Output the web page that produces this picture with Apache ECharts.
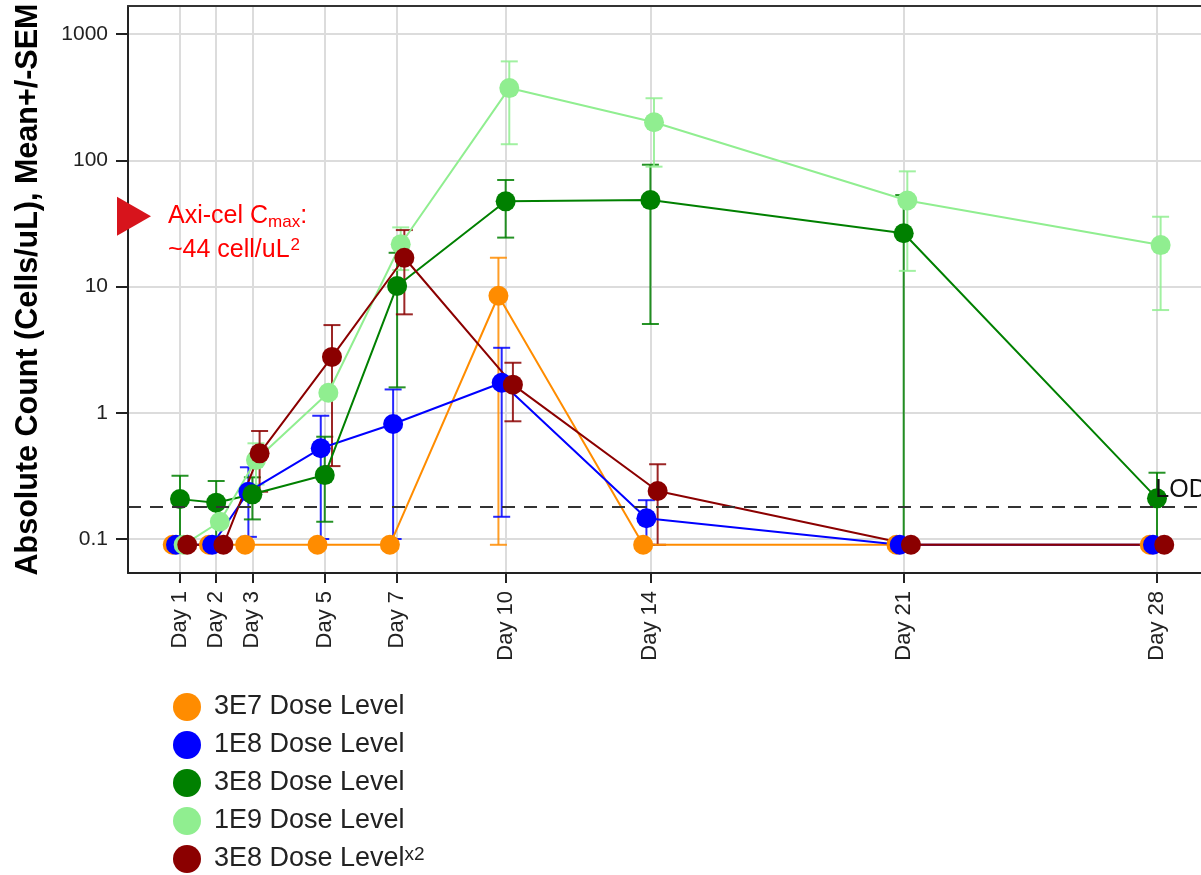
<!DOCTYPE html>
<html>
<head>
<meta charset="utf-8">
<title>Absolute count by dose level</title>
<script src="https://cdn.jsdelivr.net/npm/echarts@6.0.0/dist/echarts.min.js"></script>
<style>
  html, body { margin: 0; padding: 0; background: #fff; }
  #trend_chart { width: 1201px; height: 875px; }
</style>
</head>
<body>
<div id="trend_chart"></div>
<script>
// x axis: study days and their labels
const DAYS = [1, 2, 3, 5, 7, 10, 14, 21, 28]
const DAY_LABELS = ['Day 1', 'Day 2', 'Day 3', 'Day 5', 'Day 7', 'Day 10', 'Day 14', 'Day 21', 'Day 28']
// y axis (log) tick labels
const Y_TICKS = [0.1, 1, 10, 100, 1000]

const SERIES_NAMES = ['3E7 Dose Level', '1E8 Dose Level', '3E8 Dose Level', '1E9 Dose Level', '3E8 Dose Level x2']

// mean, mean+SEM and mean-SEM per dose level (cells/uL), null = no bar drawn
const MEAN_3E7 = [0.09, 0.09, 0.09, 0.09, 0.09, 8.45, 0.09, 0.09, 0.09]
const HIGH_3E7 = [null, null, null, null, null, 16.9, null, null, null]
const LOW_3E7 = [null, null, null, null, null, 0.09, null, null, null]

const MEAN_1E8 = [0.09, 0.09, 0.237, 0.523, 0.814, 1.73, 0.146, 0.09, 0.09]
const HIGH_1E8 = [null, null, 0.37, 0.947, 1.53, 3.27, 0.203, null, null]
const LOW_1E8 = [null, null, 0.104, 0.1, 0.1, 0.15, 0.09, null, null]

const MEAN_3E8 = [0.207, 0.194, 0.226, 0.321, 10.1, 47.3, 48.4, 26.4, 0.21]
const HIGH_3E8 = [0.317, 0.288, 0.308, 0.646, 18.5, 69.8, 92.2, 53, 0.335]
const LOW_3E8 = [0.097, 0.1, 0.143, 0.137, 1.59, 24.4, 5.05, 0.09, 0.09]

const MEAN_1E9 = [0.09, 0.137, 0.422, 1.44, 21.6, 373, 200, 48.0, 21.3]
const HIGH_1E9 = [null, null, 0.573, null, 29.4, 607, 310, 81.7, 35.7]
const LOW_1E9 = [null, null, 0.27, null, 13.5, 134, 89, 13.3, 6.51]

const MEAN_3E8X2 = [0.09, 0.09, 0.477, 2.77, 16.9, 1.67, 0.24, 0.09, 0.09]
const HIGH_3E8X2 = [null, null, 0.717, 4.95, 28.0, 2.49, 0.391, null, null]
const LOW_3E8X2 = [null, null, 0.237, 0.378, 6.02, 0.856, 0.09, null, null]

// limit of detection and the axi-cel Cmax arrow
const LOD_VALUE = 0.18
const CMAX_MARK = 36

const FONT = '"Liberation Sans", Arial, Helvetica, sans-serif'
const X_MIN = -0.437
const X_MAX = 29.216
const Y_MIN = 0.0538
const Y_MAX = 1667

// each dose level is nudged a little sideways so the dots do not sit on top of each other
const GROUPS = [
  { name: SERIES_NAMES[0], color: '#ff8c00', shift: -0.2, mean: MEAN_3E7, high: HIGH_3E7, low: LOW_3E7 },
  { name: SERIES_NAMES[1], color: '#0000ff', shift: -0.11, mean: MEAN_1E8, high: HIGH_1E8, low: LOW_1E8 },
  { name: SERIES_NAMES[2], color: '#008000', shift: 0, mean: MEAN_3E8, high: HIGH_3E8, low: LOW_3E8 },
  { name: SERIES_NAMES[3], color: '#90ee90', shift: 0.1, mean: MEAN_1E9, high: HIGH_1E9, low: LOW_1E9 },
  { name: SERIES_NAMES[4], color: '#8b0000', shift: 0.2, mean: MEAN_3E8X2, high: HIGH_3E8X2, low: LOW_3E8X2 }
]

function errorBar(color) {
  return function(params, api) {
    var x = api.value(0)
    var top = api.coord([x, api.value(2)])
    var bot = api.coord([x, api.value(1)])
    var w = 8.5
    var style = { stroke: color, lineWidth: 2, opacity: 0.85 }
    return {
      type: 'group',
      children: [
        { type: 'line', shape: { x1: top[0], y1: top[1], x2: bot[0], y2: bot[1] }, style: style },
        { type: 'line', shape: { x1: top[0] - w, y1: top[1], x2: top[0] + w, y2: top[1] }, style: style },
        { type: 'line', shape: { x1: bot[0] - w, y1: bot[1], x2: bot[0] + w, y2: bot[1] }, style: style }
      ]
    }
  }
}

var series = []
GROUPS.forEach(function(g) {
  var bars = []
  DAYS.forEach(function(d, i) {
    if (g.high[i] != null) {
      bars.push([d + g.shift, g.low[i], g.high[i]])
    }
  })
  series.push({
    name: g.name + ' SEM',
    type: 'custom',
    z: 1,
    silent: true,
    renderItem: errorBar(g.color),
    encode: { x: 0, y: [1, 2] },
    data: bars
  })
})
GROUPS.forEach(function(g, k) {
  var s = {
    name: g.name,
    type: 'line',
    z: 2,
    symbol: 'circle',
    symbolSize: 20,
    showAllSymbol: true,
    itemStyle: { color: g.color },
    lineStyle: { color: g.color, width: 2 },
    data: DAYS.map(function(d, i) {
      return [d + g.shift, g.mean[i]]
    })
  }
  if (k === 0) {
    s.markLine = {
      silent: true,
      symbol: 'none',
      label: { show: false },
      lineStyle: { color: '#333', width: 2, type: [13, 9] },
      data: [{ yAxis: LOD_VALUE }]
    }
    s.markPoint = {
      silent: true,
      symbol: 'circle',
      symbolSize: 1,
      itemStyle: { color: 'rgba(0,0,0,0)' },
      label: {
        show: true,
        position: 'right',
        distance: 0,
        offset: [0, -17],
        formatter: 'LOD',
        fontSize: 25,
        fontFamily: FONT,
        color: '#111'
      },
      data: [{ coord: [27.94, LOD_VALUE] }]
    }
  }
  series.push(s)
})

var myChart = echarts.init(document.getElementById('trend_chart'))

const option = {
  animation: false,
  backgroundColor: '#fff',
  grid: { left: 128, top: 6, right: 0, bottom: 302 },
  legend: {
    data: SERIES_NAMES.map(function(n) { return { name: n, icon: 'circle' } }),
    orient: 'vertical',
    left: 173,
    top: 693,
    height: 300,
    padding: 0,
    itemWidth: 28,
    itemHeight: 28,
    itemGap: 10,
    selectedMode: false,
    formatter: function(name) {
      if (name.slice(-3) === ' x2') {
        return '{t|' + name.slice(0, -3) + '}{sup|x2}'
      }
      return '{t|' + name + '}'
    },
    textStyle: {
      padding: [0, 0, 0, 8],
      rich: {
        t: { fontSize: 27, lineHeight: 28, color: '#222', fontFamily: FONT },
        sup: { fontSize: 19, lineHeight: 28, color: '#222', fontFamily: FONT, verticalAlign: 'top' }
      }
    }
  },
  xAxis: [
    {
      type: 'value',
      min: X_MIN,
      max: X_MAX,
      axisLine: { show: true, onZero: false, lineStyle: { color: '#222', width: 2 } },
      axisTick: { show: true, customValues: DAYS, length: 10, lineStyle: { color: '#222', width: 2 } },
      axisLabel: {
        customValues: DAYS,
        rotate: 90,
        margin: 18,
        fontSize: 22,
        color: '#222',
        fontFamily: FONT,
        formatter: function(v) {
          return DAY_LABELS[DAYS.indexOf(v)]
        }
      },
      splitLine: { show: true, lineStyle: { color: '#dcdcdc', width: 2 } }
    },
    {
      // top border of the plot
      type: 'value',
      position: 'top',
      min: X_MIN,
      max: X_MAX,
      axisLine: { show: true, onZero: false, lineStyle: { color: '#333', width: 2 } },
      axisTick: { show: false },
      axisLabel: { show: false },
      splitLine: { show: false }
    }
  ],
  yAxis: {
    type: 'log',
    logBase: 10,
    min: Y_MIN,
    max: Y_MAX,
    name: 'Absolute Count (Cells/uL), Mean+/-SEM',
    nameLocation: 'middle',
    nameGap: 84,
    nameTextStyle: { fontSize: 30.5, fontWeight: 'bold', color: '#000', fontFamily: FONT },
    axisLine: { show: true, onZero: false, lineStyle: { color: '#222', width: 2 } },
    axisTick: { show: true, customValues: Y_TICKS, length: 12, lineStyle: { color: '#222', width: 2 } },
    minorTick: { show: false },
    axisLabel: {
      customValues: Y_TICKS,
      margin: 20,
      fontSize: 21,
      color: '#222',
      fontFamily: FONT,
      formatter: function(v) {
        return String(+Number(v).toPrecision(4))
      }
    },
    splitLine: { show: true, lineStyle: { color: '#dcdcdc', width: 2 } }
  },
  series: series
}
myChart.setOption(option)

// arrow + note for axi-cel Cmax, anchored on the y scale
var p = myChart.convertToPixel({ xAxisIndex: 0, yAxisIndex: 0 }, [X_MIN, CMAX_MARK])
var ax = p[0]
var yc = p[1]
myChart.setOption({
  graphic: [
    {
      type: 'polygon',
      z: 100,
      shape: { points: [[ax - 11, yc - 19.5], [ax + 23, yc], [ax - 11, yc + 19.5]] },
      style: { fill: '#d7141c' }
    },
    {
      type: 'text',
      z: 100,
      x: ax + 40,
      y: yc - 17,
      style: {
        text: '{a|Axi-cel C}{s|max}{a|:}\n{a|~44 cell/uL}{p|2}',
        verticalAlign: 'top',
        rich: {
          a: { fontSize: 25, lineHeight: 34, fill: '#ff0000', fontFamily: FONT },
          s: { fontSize: 17, lineHeight: 34, fill: '#ff0000', fontFamily: FONT, verticalAlign: 'bottom', padding: [0, 0, 2, 0] },
          p: { fontSize: 17, lineHeight: 34, fill: '#ff0000', fontFamily: FONT, verticalAlign: 'top', padding: [4, 0, 0, 1] }
        }
      }
    }
  ]
})
</script>
</body>
</html>
